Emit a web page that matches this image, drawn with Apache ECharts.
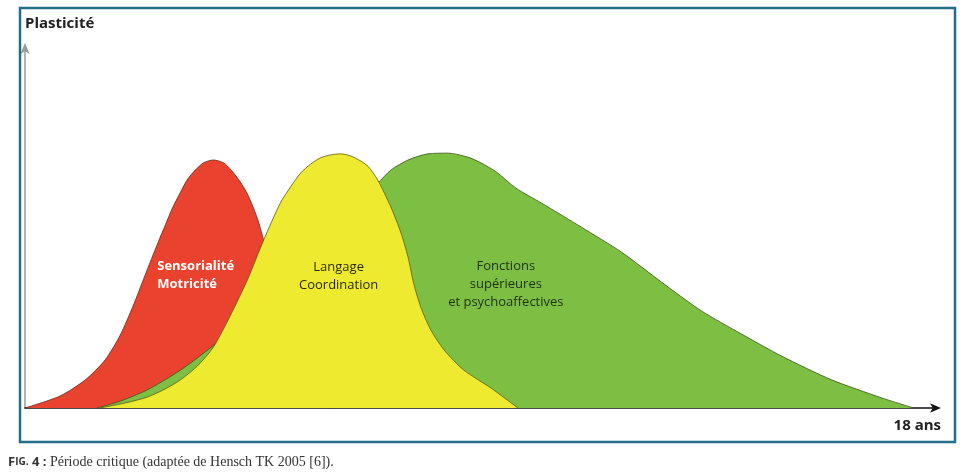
<!DOCTYPE html>
<html><head><meta charset="utf-8">
<script src="https://cdn.jsdelivr.net/npm/echarts@6/dist/echarts.min.js"></script>
<style>html,body{margin:0;padding:0;background:#fff}#c{width:965px;height:472px}</style>
</head><body><div id="c"></div>
<script>
// x: age in years (0 .. 18), y: plasticity (0 .. 100)
var sensorialite = [[0,0],[0.69,3.3],[1.19,7.8],[1.58,13.3],[1.88,20.2],[2.14,28.5],[2.37,36.8],[2.63,46.0],[2.77,50.7],[2.91,55.4],[3.07,59.8],[3.20,63.2],[3.36,65.9],[3.52,67.9],[3.72,68.7],[3.92,67.9],[4.07,65.9],[4.25,62.6],[4.39,59.3],[4.51,55.4],[4.61,51.5],[4.71,46.5],[4.95,34.1],[5.24,17.5],[5.64,4.4],[6.03,0]];
var langage = [[1.48,0],[1.98,1.4],[2.41,3.0],[2.77,5.3],[3.07,7.8],[3.40,11.6],[3.72,16.9],[4.06,25.8],[4.39,35.5],[4.71,46.5],[5.04,56.8],[5.24,61.2],[5.44,65.1],[5.64,67.6],[5.83,69.3],[6.03,70.1],[6.23,70.4],[6.43,69.8],[6.63,68.4],[6.78,66.8],[6.96,63.2],[7.22,55.7],[7.42,48.5],[7.56,41.8],[7.67,34.6],[7.81,28.0],[8.01,21.6],[8.27,16.1],[8.66,10.5],[9.20,5.5],[9.73,0]];
var fonctions = [[1.42,0],[1.88,1.9],[2.41,5.0],[3.07,10.5],[3.80,18.3],[4.65,29.9],[5.44,43.8],[6.23,54.8],[6.96,62.3],[7.22,65.9],[7.56,68.7],[7.95,70.4],[8.35,70.6],[8.74,69.5],[9.00,67.9],[9.30,65.4],[9.69,60.9],[10.19,56.8],[10.98,50.1],[11.77,43.2],[12.56,34.9],[13.35,26.9],[14.14,20.5],[14.93,14.4],[15.92,7.8],[16.91,2.8],[17.54,0]];
var labelSens = {coord:[2.61,36.8], text:'Sensorialité\nMotricité'};
var labelLang = {coord:[6.19,36.6], text:'Langage\nCoordination'};
var labelFonc = {coord:[9.49,34.4], text:'Fonctions\nsupérieures\net psychoaffectives'};
var yTitle = 'Plasticité';
var xTitle = '18 ans';
var captionText = 'Période critique (adaptée de Hensch TK 2005 [6]).';

var chart = echarts.init(document.getElementById('c'), null, {renderer:'canvas'});
function mp(l, color, weight, align){
  return {symbol:'circle', symbolSize:0, silent:true,
    data:[{coord:l.coord, value:0}],
    label:{show:true, position:'inside', formatter:l.text, color:color,
      fontFamily:'Open Sans', fontSize:13, fontWeight:weight, lineHeight:18, align:align}};
}
chart.setOption({
  animation:false,
  grid:{left:25, right:28, top:47, bottom:64},
  xAxis:{type:'value', min:0, max:18,
    axisLine:{show:true, symbol:['none','arrow'], symbolSize:[7,11], symbolOffset:[0,4], lineStyle:{color:'#111', width:1.5}},
    axisTick:{show:false}, axisLabel:{show:false}, splitLine:{show:false}},
  yAxis:{type:'value', min:0, max:100,
    axisLine:{show:true, symbol:['none','arrow'], symbolSize:[7,11], symbolOffset:[0,4], lineStyle:{color:'#9a9a9a', width:1.5}},
    axisTick:{show:false}, axisLabel:{show:false}, splitLine:{show:false}},
  series:[
    {type:'line', name:'Sensorialité', data:sensorialite, smooth:0.25, showSymbol:false, z:2,
      lineStyle:{color:'#6b2a18', width:0.8}, areaStyle:{color:'#e9432f', opacity:1},
      markPoint:mp(labelSens,'#ffffff','bold','left')},
    {type:'line', name:'Fonctions', data:fonctions, smooth:0.25, showSymbol:false, z:3,
      lineStyle:{color:'#3a5418', width:0.8}, areaStyle:{color:'#7cbf42', opacity:1},
      markPoint:mp(labelFonc,'#1e3012','normal','center')},
    {type:'line', name:'Langage', data:langage, smooth:0.25, showSymbol:false, z:4,
      lineStyle:{color:'#5e5a14', width:0.8}, areaStyle:{color:'#eeea2f', opacity:1},
      markPoint:mp(labelLang,'#2a2a12','normal','center')}
  ],
  graphic:[
    {type:'rect', shape:{x:20, y:8, width:935, height:434}, style:{fill:'none', stroke:'#266e87', lineWidth:2.5}, z:10},
    {type:'text', left:25, top:16, style:{text:yTitle, font:'bold 15px "Open Sans"', fill:'#222'}, z:10},
    {type:'text', right:24, top:418, style:{text:xTitle, font:'bold 15px "Open Sans"', fill:'#222', textAlign:'right'}, z:10},
    {type:'text', left:8, top:455, style:{
      text:'{a|F}{b|IG.}{a| 4 :}{c| '+captionText+'}',
      rich:{a:{fontFamily:'Open Sans', fontWeight:'bold', fontSize:13, fill:'#333'},
            b:{fontFamily:'Open Sans', fontWeight:'bold', fontSize:10, fill:'#333'},
            c:{fontFamily:'Liberation Serif', fontSize:14, fill:'#333'}}}, z:10}
  ]
});
</script></body></html>
